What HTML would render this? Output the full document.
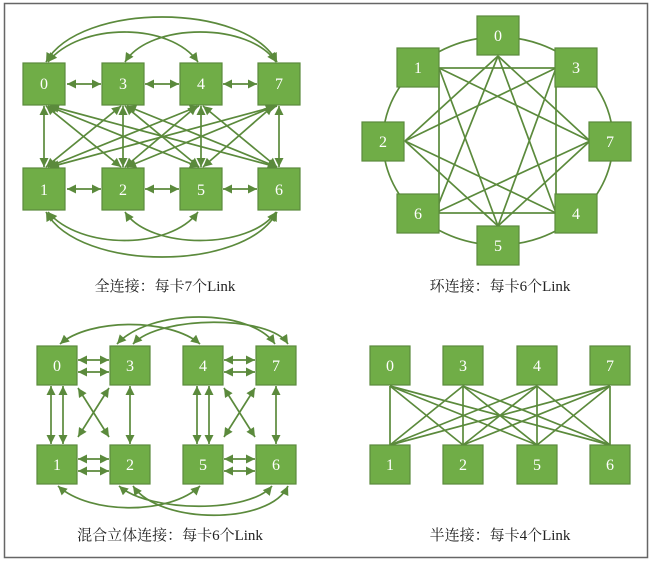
<!DOCTYPE html>
<html><head><meta charset="utf-8"><style>
body{margin:0;background:#fff;width:653px;height:563px;overflow:hidden}
svg{display:block}
.b{fill:#70ad47;stroke:#5b8a3c;stroke-width:1.2}
.t{fill:#fff;font-family:"Liberation Serif",serif;font-size:16px;text-anchor:middle}
.c{fill:#222;font-family:"Liberation Serif","Noto Serif CJK SC",serif;font-size:15px;text-anchor:middle}
.l{stroke:#5b8a3c;stroke-width:1.7;fill:none}
.a{marker-start:url(#m);marker-end:url(#m)}
</style></head><body>
<svg width="653" height="563" viewBox="0 0 653 563">
<defs><marker id="m" viewBox="0 0 10 10" refX="10" refY="5" markerWidth="10" markerHeight="9" markerUnits="userSpaceOnUse" orient="auto-start-reverse"><path d="M0,0L10,5L0,10z" fill="#5b8a3c"/></marker></defs>
<rect x="4.5" y="3.5" width="643" height="554" fill="none" stroke="#666" stroke-width="1.5"/>

<g class="l a">
<line x1="67" y1="84" x2="101" y2="84"/><line x1="145" y1="84" x2="179" y2="84"/><line x1="223" y1="84" x2="257" y2="84"/>
<line x1="67" y1="189" x2="101" y2="189"/><line x1="145" y1="189" x2="179" y2="189"/><line x1="223" y1="189" x2="257" y2="189"/>
<line x1="44" y1="106" x2="44" y2="167"/><line x1="123" y1="106" x2="123" y2="167"/><line x1="201" y1="106" x2="201" y2="167"/><line x1="279" y1="106" x2="279" y2="167"/>
<line x1="46" y1="106" x2="121" y2="167"/><line x1="48" y1="106" x2="199" y2="167"/><line x1="50" y1="106" x2="277" y2="167"/>
<line x1="121" y1="106" x2="46" y2="167"/><line x1="125" y1="106" x2="199" y2="167"/><line x1="127" y1="106" x2="277" y2="167"/>
<line x1="199" y1="106" x2="48" y2="167"/><line x1="197" y1="106" x2="125" y2="167"/><line x1="203" y1="106" x2="277" y2="167"/>
<line x1="277" y1="106" x2="50" y2="167"/><line x1="275" y1="106" x2="127" y2="167"/><line x1="273" y1="106" x2="203" y2="167"/>
<path d="M46,62 C80,2 245,2 277,62"/><path d="M48,62 C80,22 170,22 198,62"/><path d="M125,62 C150,22 250,22 276,62"/>
<path d="M46,212 C80,272 245,272 277,212"/><path d="M48,212 C80,250 170,250 198,212"/><path d="M125,212 C150,250 250,250 276,212"/>
</g>
<g>
<rect class="b" x="23" y="63" width="42" height="42"/><text class="t" x="44" y="89">0</text>
<rect class="b" x="102" y="63" width="42" height="42"/><text class="t" x="123" y="89">3</text>
<rect class="b" x="180" y="63" width="42" height="42"/><text class="t" x="201" y="89">4</text>
<rect class="b" x="258" y="63" width="42" height="42"/><text class="t" x="279" y="89">7</text>
<rect class="b" x="23" y="168" width="42" height="42"/><text class="t" x="44" y="195">1</text>
<rect class="b" x="102" y="168" width="42" height="42"/><text class="t" x="123" y="195">2</text>
<rect class="b" x="180" y="168" width="42" height="42"/><text class="t" x="201" y="195">5</text>
<rect class="b" x="258" y="168" width="42" height="42"/><text class="t" x="279" y="195">6</text>
</g>
<text class="c" x="165" y="291">全连接：每卡7个Link</text>

<g class="l">
<ellipse cx="498" cy="141" rx="115" ry="104"/>
<rect x="439" y="68" width="117" height="145"/>
<line x1="498" y1="56" x2="405" y2="141"/><line x1="498" y1="56" x2="590" y2="141"/><line x1="498" y1="56" x2="435" y2="213"/><line x1="498" y1="56" x2="556" y2="213"/>
<line x1="498" y1="226" x2="405" y2="141"/><line x1="498" y1="226" x2="590" y2="141"/><line x1="498" y1="226" x2="439" y2="68"/><line x1="498" y1="226" x2="556" y2="68"/>
<line x1="405" y1="141" x2="556" y2="68"/><line x1="405" y1="141" x2="556" y2="213"/>
<line x1="590" y1="141" x2="439" y2="68"/><line x1="590" y1="141" x2="435" y2="213"/>
</g>
<g>
<rect class="b" x="477" y="16" width="42" height="39"/><text class="t" x="498" y="41">0</text>
<rect class="b" x="397" y="48" width="42" height="39"/><text class="t" x="418" y="73">1</text>
<rect class="b" x="555" y="48" width="42" height="39"/><text class="t" x="576" y="73">3</text>
<rect class="b" x="362" y="122" width="42" height="39"/><text class="t" x="383" y="147">2</text>
<rect class="b" x="589" y="122" width="42" height="39"/><text class="t" x="610" y="147">7</text>
<rect class="b" x="397" y="194" width="42" height="39"/><text class="t" x="418" y="219">6</text>
<rect class="b" x="555" y="194" width="42" height="39"/><text class="t" x="576" y="219">4</text>
<rect class="b" x="477" y="226" width="42" height="39"/><text class="t" x="498" y="251">5</text>
</g>
<text class="c" x="500" y="291">环连接：每卡6个Link</text>

<g class="l a">
<line x1="78" y1="360" x2="109" y2="360"/><line x1="78" y1="372" x2="109" y2="372"/>
<line x1="78" y1="459" x2="109" y2="459"/><line x1="78" y1="471" x2="109" y2="471"/>
<line x1="224" y1="360" x2="255" y2="360"/><line x1="224" y1="372" x2="255" y2="372"/>
<line x1="224" y1="459" x2="255" y2="459"/><line x1="224" y1="471" x2="255" y2="471"/>
<line x1="51" y1="386" x2="51" y2="444"/><line x1="63" y1="386" x2="63" y2="444"/>
<line x1="197" y1="386" x2="197" y2="444"/><line x1="209" y1="386" x2="209" y2="444"/>
<line x1="130" y1="386" x2="130" y2="444"/><line x1="276" y1="386" x2="276" y2="444"/>
<line x1="78" y1="388" x2="109" y2="437"/><line x1="109" y1="388" x2="78" y2="437"/>
<line x1="224" y1="388" x2="255" y2="437"/><line x1="255" y1="388" x2="224" y2="437"/>
<path d="M60,344 C90,318 170,318 200,344"/><path d="M117,344 C150,308 250,308 275,344"/><path d="M133,344 C160,315 270,315 288,344"/>
<path d="M58,486 C90,515 170,515 200,486"/><path d="M119,486 C150,513 250,513 272,486"/><path d="M133,486 C160,525 270,525 288,486"/>
</g>
<g>
<rect class="b" x="37" y="346" width="40" height="39"/><text class="t" x="57" y="371">0</text>
<rect class="b" x="110" y="346" width="40" height="39"/><text class="t" x="130" y="371">3</text>
<rect class="b" x="183" y="346" width="40" height="39"/><text class="t" x="203" y="371">4</text>
<rect class="b" x="256" y="346" width="40" height="39"/><text class="t" x="276" y="371">7</text>
<rect class="b" x="37" y="445" width="40" height="39"/><text class="t" x="57" y="470">1</text>
<rect class="b" x="110" y="445" width="40" height="39"/><text class="t" x="130" y="470">2</text>
<rect class="b" x="183" y="445" width="40" height="39"/><text class="t" x="203" y="470">5</text>
<rect class="b" x="256" y="445" width="40" height="39"/><text class="t" x="276" y="470">6</text>
</g>
<text class="c" x="170" y="540">混合立体连接：每卡6个Link</text>

<g class="l">
<line x1="390" y1="386" x2="390" y2="445"/><line x1="390" y1="386" x2="463" y2="445"/><line x1="390" y1="386" x2="537" y2="445"/><line x1="390" y1="386" x2="610" y2="445"/>
<line x1="463" y1="386" x2="390" y2="445"/><line x1="463" y1="386" x2="463" y2="445"/><line x1="463" y1="386" x2="537" y2="445"/><line x1="463" y1="386" x2="610" y2="445"/>
<line x1="537" y1="386" x2="390" y2="445"/><line x1="537" y1="386" x2="463" y2="445"/><line x1="537" y1="386" x2="537" y2="445"/><line x1="537" y1="386" x2="610" y2="445"/>
<line x1="610" y1="386" x2="390" y2="445"/><line x1="610" y1="386" x2="463" y2="445"/><line x1="610" y1="386" x2="537" y2="445"/><line x1="610" y1="386" x2="610" y2="445"/>
</g>
<g>
<rect class="b" x="370" y="346" width="40" height="39"/><text class="t" x="390" y="371">0</text>
<rect class="b" x="443" y="346" width="40" height="39"/><text class="t" x="463" y="371">3</text>
<rect class="b" x="517" y="346" width="40" height="39"/><text class="t" x="537" y="371">4</text>
<rect class="b" x="590" y="346" width="40" height="39"/><text class="t" x="610" y="371">7</text>
<rect class="b" x="370" y="445" width="40" height="39"/><text class="t" x="390" y="470">1</text>
<rect class="b" x="443" y="445" width="40" height="39"/><text class="t" x="463" y="470">2</text>
<rect class="b" x="517" y="445" width="40" height="39"/><text class="t" x="537" y="470">5</text>
<rect class="b" x="590" y="445" width="40" height="39"/><text class="t" x="610" y="470">6</text>
</g>
<text class="c" x="500" y="540">半连接：每卡4个Link</text>
</svg>
</body></html>
